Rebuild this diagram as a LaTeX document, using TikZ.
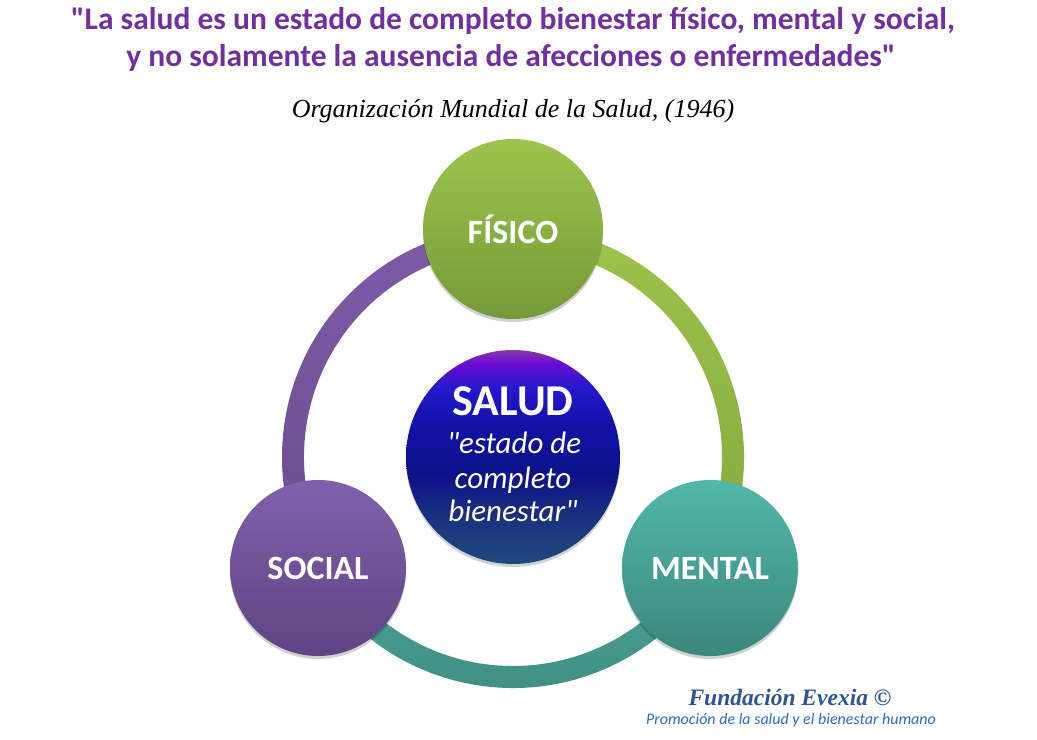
\documentclass[tikz,border=0pt]{standalone}
\usepackage{fontspec}
\newfontfamily\carl{Carlito}
\newfontfamily\libser{Liberation Serif}
\usetikzlibrary{shadows}
\definecolor{titlepurple}{HTML}{7030A0}
\definecolor{evexia}{HTML}{2F5496}
\definecolor{promo}{HTML}{2E6FB0}
\definecolor{purpA}{HTML}{7F5BA8}
\definecolor{purpB}{HTML}{6A4C8C}
\definecolor{greenA}{HTML}{9DC44C}
\definecolor{greenB}{HTML}{84A73C}
\definecolor{tealA}{HTML}{4BA597}
\definecolor{tealB}{HTML}{3E8A7F}
\definecolor{fisA}{HTML}{9DC54C}
\definecolor{fisB}{HTML}{759A39}
\definecolor{socA}{HTML}{8060AC}
\definecolor{socB}{HTML}{5F4483}
\definecolor{menA}{HTML}{52B8A9}
\definecolor{menB}{HTML}{3B877C}
\definecolor{s0}{HTML}{8A3AA8}
\definecolor{s1}{HTML}{6A0CD2}
\definecolor{s2}{HTML}{2418CC}
\definecolor{s3}{HTML}{1212A8}
\definecolor{s4}{HTML}{0C1288}
\definecolor{s5}{HTML}{1A3480}
\definecolor{s6}{HTML}{1F4A7C}
\pgfdeclareverticalshading{saludsh}{100bp}{color(0bp)=(s6); color(25bp)=(s6); color(35bp)=(s5); color(46bp)=(s4); color(58bp)=(s3); color(66bp)=(s2); color(72bp)=(s1); color(75bp)=(s0); color(100bp)=(s0)}
\tikzset{
  ringseg/.style={draw=none},
  softshadow/.style={drop shadow={shadow xshift=0bp, shadow yshift=-3bp, opacity=0.18, fill=black}},
  bigcirc/.style={circle, minimum size=176bp, inner sep=0pt, text=white,
    font=\carl\bfseries\fontsize{34bp}{38bp}\selectfont, softshadow},
  titletxt/.style={text=titlepurple, font=\carl\bfseries\fontsize{31.5bp}{36bp}\selectfont, anchor=base, inner sep=0pt},
  inner/.style={text=white, anchor=base, inner sep=0pt},
}
\begin{document}
\begin{tikzpicture}[x=1bp,y=1bp]
\useasboundingbox (0,0) rectangle (1037,740);
\coordinate (ctr) at (513,283);
% ring segments
\begin{scope}[shift={(ctr)}]
\shade[ringseg, top color=purpA, bottom color=purpB] (90:231) arc[start angle=90,end angle=210,radius=231] -- (210:209) arc[start angle=210,end angle=90,radius=209] -- cycle;
\shade[ringseg, top color=greenA, bottom color=greenB] (-30:231) arc[start angle=-30,end angle=90,radius=231] -- (90:209) arc[start angle=90,end angle=-30,radius=209] -- cycle;
\shade[ringseg, top color=tealA, bottom color=tealB] (210:231) arc[start angle=210,end angle=330,radius=231] -- (330:209) arc[start angle=330,end angle=210,radius=209] -- cycle;
\end{scope}
% circles
\node[bigcirc, top color=fisA, bottom color=fisB, minimum size=180bp] (fisico) at (513,511) {FÍSICO};
\node[bigcirc, top color=socA, bottom color=socB] (social) at (318,172) {SOCIAL};
\node[bigcirc, top color=menA, bottom color=menB] (mental) at (710,172) {MENTAL};
\node[circle, minimum size=214bp, inner sep=0pt, shading=saludsh, softshadow] (salud) at (513,283) {};
\node[inner, font=\carl\bfseries\fontsize{44bp}{48bp}\selectfont] (saludt) at (513,324) {SALUD};
\node[inner, font=\carl\itshape\fontsize{31bp}{34bp}\selectfont] (l1) at (514,286) {"estado de};
\node[inner, font=\carl\itshape\fontsize{31bp}{34bp}\selectfont] (l2) at (513,251) {completo};
\node[inner, font=\carl\itshape\fontsize{31bp}{34bp}\selectfont] (l3) at (513,218) {bienestar"};
% titles
\node[titletxt] (t1) at (513,710) {"La salud es un estado de completo bienestar físico, mental y social,};
\node[titletxt] (t2) at (511,673) {y no solamente la ausencia de afecciones o enfermedades"};
\node[anchor=base, inner sep=0pt, font=\libser\itshape\fontsize{26bp}{30bp}\selectfont] (oms) at (513,622) {Organización Mundial de la Salud, (1946)};
\node[anchor=base, inner sep=0pt, text=evexia, font=\libser\bfseries\itshape\fontsize{23.5bp}{27bp}\selectfont] (fund) at (790,34) {Fundación Evexia ©};
\node[anchor=base, inner sep=0pt, text=promo, font=\carl\itshape\fontsize{16bp}{19bp}\selectfont] (prom) at (791,15) {Promoción de la salud y el bienestar humano};
\end{tikzpicture}
\end{document}
